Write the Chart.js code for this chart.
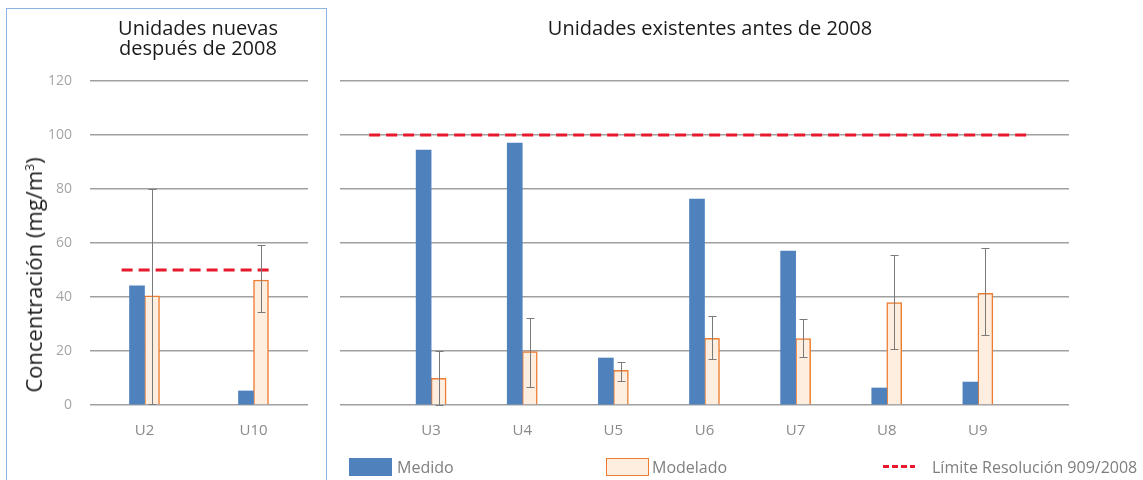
<!DOCTYPE html>
<html>
<head>
<meta charset="utf-8">
<script src="https://cdn.jsdelivr.net/npm/chart.js@4/dist/chart.umd.min.js"></script>
<style>
  html, body { margin:0; padding:0; background:#fff; }
  body { width:1143px; height:480px; position:relative; overflow:hidden; font-family:"Open Sans", sans-serif; }
  canvas { position:absolute; top:0; }
  #box { position:absolute; left:6px; top:8px; width:321px; height:480px; border:1px solid #8db3e2; box-sizing:border-box; }
  .title { position:absolute; color:#1a1a1a; font-size:20px; line-height:20px; text-align:center; }
  #t1 { left:98px; top:18px; width:200px; }
  #t2 { left:460px; top:18px; width:500px; }
  #ytitle { position:absolute; left:33px; top:275px; transform:translate(-50%,-50%) rotate(-90deg); white-space:nowrap; font-size:22px; color:#1a1a1a; }
  #ytitle sup { font-size:12px; }
  .lg { position:absolute; top:457px; height:20px; font-size:16px; color:#7f7f7f; line-height:20px; white-space:nowrap; }
  .sw { position:absolute; top:458px; height:18px; box-sizing:border-box; }
</style>
</head>
<body>
<div id="box"></div>
<canvas id="c1" width="320" height="480" style="left:0"></canvas>
<canvas id="c2" width="813" height="480" style="left:330px"></canvas>
<div class="title" id="t1">Unidades nuevas<br>después de 2008</div>
<div class="title" id="t2">Unidades existentes antes de 2008</div>
<div id="ytitle">Concentración (mg/m<sup>3</sup>)</div>
<div class="sw" style="left:349px;width:43px;background:#4f81bd"></div>
<div class="lg" style="left:397px">Medido</div>
<div class="sw" style="left:606px;width:43px;background:#fdeee0;border:1.5px solid #ed7d31"></div>
<div class="lg" style="left:652px">Modelado</div>
<div class="sw" style="left:883px;width:32px;top:465px;height:3px;background:repeating-linear-gradient(90deg,#e8192c 0 6px,transparent 6px 9px)"></div>
<div class="lg" style="left:932px">Límite Resolución 909/2008</div>
<script>
// ---- data ----
const leftCategories = ['U2', 'U10'];
const leftMedido = [44.1, 5.2];
const leftModelado = [40.4, 46.3];
const leftErrLow = [0.3, 34.3];
const leftErrHigh = [80, 59.1];
const leftLimit = 50;
const leftLimitSpan = [0.29, 1.68];   // in category units (axis 0..2)

const rightCategories = ['U3', 'U4', 'U5', 'U6', 'U7', 'U8', 'U9'];
const rightMedido = [94.4, 97.0, 17.4, 76.3, 57.0, 6.3, 8.5];
const rightModelado = [9.9, 19.8, 12.8, 24.7, 24.6, 37.9, 41.4];
const rightErrLow = [0, 6.5, 8.8, 16.9, 17.7, 20.6, 25.8];
const rightErrHigh = [20.0, 32.1, 15.8, 33.1, 31.7, 55.4, 58.0];
const rightLimit = 100;
const rightLimitSpan = [0.32, 7.57];  // in category units (axis 0..8)

const yTicks = [0, 20, 40, 60, 80, 100, 120];

// ---- styles ----
const BLUE = '#4f81bd', ORANGE = '#ed7d31', PEACH = '#fdeee0', RED = '#e8192c', GRID = '#a0a0a0';
const FONT = '"Open Sans", sans-serif';

const errorBarPlugin = {
  id: 'errbars',
  afterDatasetsDraw(chart, args, opts) {
    const meta = chart.getDatasetMeta(1);
    const y = chart.scales.y;
    const ctx = chart.ctx;
    ctx.save();
    ctx.strokeStyle = '#7a7a7a';
    ctx.lineWidth = 1;
    opts.low.forEach((lo, i) => {
      const hi = opts.high[i];
      if (lo == null || hi == null) return;
      const el = meta.data[i];
      const x = Math.round(el.x) + 0.5;
      const y1 = Math.round(y.getPixelForValue(lo)) + 0.5;
      const y2 = Math.round(y.getPixelForValue(hi)) + 0.5;
      ctx.beginPath();
      ctx.moveTo(x, y1); ctx.lineTo(x, y2);
      ctx.moveTo(x - 4, y1); ctx.lineTo(x + 4, y1);
      ctx.moveTo(x - 4, y2); ctx.lineTo(x + 4, y2);
      ctx.stroke();
    });
    ctx.restore();
  }
};

// cats: category names; posOffset: axis position of first category; xmax: axis max
function makeChart(id, cats, med, mod, lo, hi, limit, span, posOffset, xmax, showY, padRight, yWidth) {
  const pos = cats.map((c, i) => i + posOffset);
  return new Chart(document.getElementById(id), {
    data: {
      datasets: [
        { type: 'bar', label: 'Medido', data: pos.map((p, i) => ({ x: p, y: med[i] })),
          backgroundColor: BLUE, borderWidth: 0, barThickness: 15, order: 2 },
        { type: 'bar', label: 'Modelado', data: pos.map((p, i) => ({ x: p, y: mod[i] })),
          backgroundColor: PEACH, borderColor: ORANGE, borderWidth: 1.5, barThickness: 15, order: 2 },
        { type: 'line', label: 'Límite Resolución 909/2008',
          data: [{ x: span[0], y: limit }, { x: span[1], y: limit }],
          borderColor: RED, borderWidth: 3, borderDash: [11, 6], pointRadius: 0, fill: false, order: 1 }
      ]
    },
    options: {
      responsive: false,
      animation: false,
      devicePixelRatio: 1,
      layout: { padding: { top: 81, right: padRight, bottom: 0, left: 0 } },
      plugins: {
        legend: { display: false },
        tooltip: { enabled: false },
        errbars: { low: lo, high: hi }
      },
      scales: {
        x: {
          type: 'linear',
          min: 0, max: xmax,
          offset: false,
          bounds: 'ticks',
          afterDataLimits: s => { s.min = 0; s.max = xmax; },
          afterBuildTicks: s => { s.ticks = pos.map(p => ({ value: p })); },
          grid: { display: false, drawTicks: false, offset: false },
          border: { display: false },
          ticks: { color: '#8a8a8a', font: { family: FONT, size: 15 }, padding: 17, autoSkip: false, maxRotation: 0,
                   callback: (v, i) => cats[i] },
          afterFit: s => { s.height = 75; s.paddingLeft = 0; s.paddingRight = 0; }
        },
        y: {
          min: 0, max: 120,
          afterBuildTicks: s => { s.ticks = yTicks.map(v => ({ value: v })); },
          grid: { color: GRID, lineWidth: 1.5, drawTicks: false },
          border: { display: false },
          ticks: { display: showY, color: '#a6a6a6', font: { family: FONT, size: 14 }, padding: 18 },
          afterFit: s => { s.width = yWidth; }
        }
      }
    },
    plugins: [errorBarPlugin]
  });
}

makeChart('c1', leftCategories, leftMedido, leftModelado, leftErrLow, leftErrHigh, leftLimit, leftLimitSpan, 0.5, 2, true, 12, 90);
makeChart('c2', rightCategories, rightMedido, rightModelado, rightErrLow, rightErrHigh, rightLimit, rightLimitSpan, 1, 8, false, 74, 10);
</script>
</body>
</html>
